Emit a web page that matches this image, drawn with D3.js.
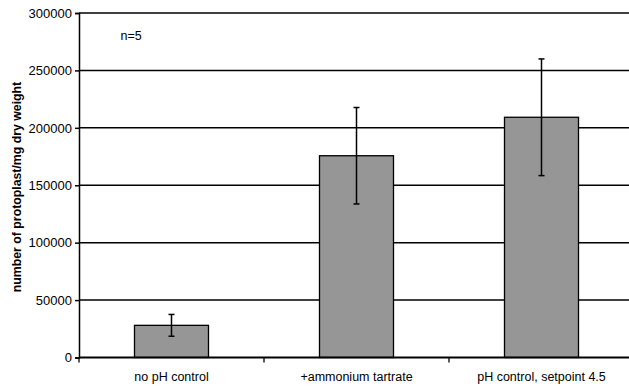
<!DOCTYPE html>
<html><head><meta charset="utf-8">
<script src="https://cdn.jsdelivr.net/npm/d3@7"></script>
<style>body{margin:0;background:#fff;} text{font-family:"Liberation Sans",Arial,sans-serif;fill:#000;}</style>
</head><body>
<svg id="c" width="629" height="386"></svg>
<script>
const categories = ["no pH control", "+ammonium tartrate", "pH control, setpoint 4.5"];
const means = [28000, 175700, 209200];
const errors = [9500, 42000, 50800];
const yTicks = [0, 50000, 100000, 150000, 200000, 250000, 300000];
const yTitle = "number of protoplast/mg dry weight";
const note = "n=5";

(function () {
const svg = d3.select("#c");
const pLeft = 79, pRight = 634, pTop = 13, pBottom = 357.5;
const x = d3.scaleBand().domain(categories).range([pLeft, pRight]).paddingInner(0.6).paddingOuter(0.3);
const y = d3.scaleLinear().domain([0, 300000]).range([pBottom, pTop]);

// gridlines
svg.append("g").selectAll("line").data(yTicks.filter(d => d > 0)).join("line")
  .attr("x1", pLeft).attr("x2", 629).attr("y1", d => y(d)).attr("y2", d => y(d))
  .attr("stroke", "#000").attr("stroke-width", 1.5);

// y axis
const yAxis = svg.append("g").attr("transform", `translate(${pLeft},0)`)
  .call(d3.axisLeft(y).tickValues(yTicks).tickFormat(d3.format("d")).tickSize(4).tickPadding(3));
yAxis.select(".domain").attr("stroke", "#000").attr("stroke-width", 1.5);
yAxis.selectAll(".tick line").attr("stroke-width", 1.5);
yAxis.selectAll("text").style("font-size", "13px").attr("fill", "#000");

// bars
svg.append("g").selectAll("rect").data(categories).join("rect")
  .attr("x", d => x(d)).attr("width", x.bandwidth())
  .attr("y", (d, i) => y(means[i])).attr("height", (d, i) => y(0) - y(means[i]))
  .attr("fill", "#969696").attr("stroke", "#000").attr("stroke-width", 1.3);

// x axis
const xAxisG = svg.append("g");
xAxisG.append("line").attr("x1", pLeft).attr("x2", 629).attr("y1", y(0)).attr("y2", y(0))
  .attr("stroke", "#000").attr("stroke-width", 1.8);
xAxisG.selectAll("line.t").data(categories).join("line").attr("class", "t")
  .attr("x1", d => x(d) - x.bandwidth() * 0.75).attr("x2", d => x(d) - x.bandwidth() * 0.75)
  .attr("y1", y(0)).attr("y2", y(0) + 5).attr("stroke", "#000").attr("stroke-width", 1.3);
xAxisG.selectAll("text").data(categories).join("text")
  .attr("x", d => x(d) + x.bandwidth() / 2).attr("y", 381)
  .attr("text-anchor", "middle").style("font-size", "12.5px").text(d => d);

// error bars
const eb = svg.append("g").selectAll("g").data(categories).join("g");
eb.append("line")
  .attr("x1", d => x(d) + x.bandwidth() / 2).attr("x2", d => x(d) + x.bandwidth() / 2)
  .attr("y1", (d, i) => y(means[i] + errors[i])).attr("y2", (d, i) => y(means[i] - errors[i]))
  .attr("stroke", "#000").attr("stroke-width", 1.5);
eb.selectAll("line.cap").data((d, i) => [[d, means[i] + errors[i]], [d, means[i] - errors[i]]]).join("line").attr("class", "cap")
  .attr("x1", d => x(d[0]) + x.bandwidth() / 2 - 3).attr("x2", d => x(d[0]) + x.bandwidth() / 2 + 3)
  .attr("y1", d => y(d[1])).attr("y2", d => y(d[1]))
  .attr("stroke", "#000").attr("stroke-width", 1.5);

// y title
svg.append("text").attr("transform", "translate(20.5,187) rotate(-90)")
  .attr("text-anchor", "middle").style("font-size", "12.3px").style("font-weight", "bold").text(yTitle);

// note
svg.append("text").attr("x", 120.5).attr("y", 40).style("font-size", "12.5px").text(note);
})();
</script>
</body></html>
